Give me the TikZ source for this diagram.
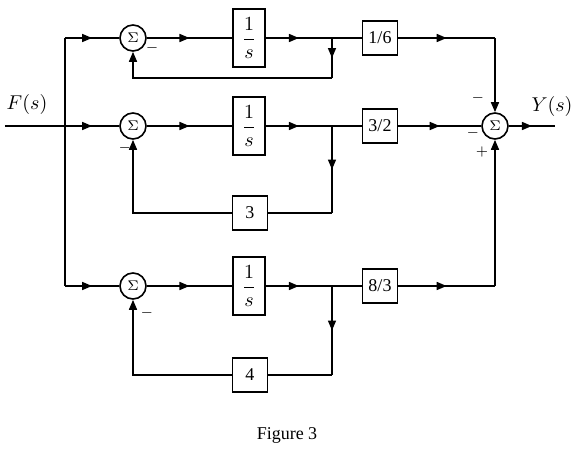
\documentclass[tikz,border=0pt]{standalone}
\usepackage{tikz}
\usepackage{xcolor}
\usepackage{amsmath}
\usepackage{fontspec}
\setmainfont{Liberation Serif}
\usetikzlibrary{arrows.meta,decorations.markings}

\tikzset{
  sumnode/.style={draw, circle, minimum size=13pt, inner sep=0pt, font=\scriptsize},
  block/.style={draw, minimum width=17.5pt, minimum height=17pt, inner sep=1pt, font=\small},
  intblock/.style={draw, minimum width=16pt, minimum height=29pt, inner sep=0pt},
  signlabel/.style={font=\scriptsize, inner sep=0pt},
  midarrow/.style={postaction={decorate},
    decoration={markings, mark=at position 0.5 with {\arrow{Triangle[length=5pt,width=4pt]}}}},
  tiparrow/.style={-{Triangle[length=5pt,width=4pt]}}
}

\newcommand{\looprow}[3]{%
  \begin{scope}[shift={(0, #1)}]%
    \def\rowname{#2}
    \def\gaintext{#3}

    \node[sumnode] (sum\rowname) at (133, 0) {$\Sigma$};
    \node[intblock] (int\rowname) at (249, 0) {$\dfrac{1}{s}$};
    \node[block] (gain\rowname) at (380, 0) {\gaintext};
    \coordinate (in\rowname) at (65, 0);
    \coordinate (br\rowname) at (332, 0);

    \draw[midarrow] (in\rowname) -- (sum\rowname.west);
    \draw[midarrow] (sum\rowname.east) -- (int\rowname.west);
    \draw[midarrow] (int\rowname.east) -- (br\rowname);
    \draw (br\rowname) -- (gain\rowname.west);
  \end{scope}
}

\begin{document}
\begin{tikzpicture}[x=0.5pt, y=-0.5pt, line width=0.8pt]
\useasboundingbox (0, 0) rectangle (575, 450);

% three integrator rows
\looprow{38}{A}{1/6}
\looprow{126}{B}{3/2}
\looprow{286}{C}{8/3}

% input and left bus
\coordinate (fin) at (5, 126);
\node (flabel) at (27, 104) {$F(s)$};
\draw (fin) -- (inB);
\draw (inA) -- (inC);

% output summing junction
\node[sumnode] (sumY) at (495, 126) {$\Sigma$};
\coordinate (yout) at (555, 126);
\coordinate (cornA) at (495, 38);
\coordinate (cornC) at (495, 286);
\node (ylabel) at (552, 106) {$Y(s)$};

\draw[midarrow] (gainA.east) -- (cornA);
\draw[tiparrow] (cornA) -- (sumY.north);
\draw[midarrow] (gainB.east) -- (sumY.west);
\draw[midarrow] (gainC.east) -- (cornC);
\draw[tiparrow] (cornC) -- (sumY.south);
\draw[midarrow] (sumY.east) -- (yout);

% feedback paths
\coordinate (fbA) at (332, 78);
\draw[midarrow] (brA) -- (fbA);
\draw[tiparrow] (fbA) -| (sumA.south);

\node[block] (fbB) at (250, 213) {3};
\draw[midarrow] (brB) -- (brB |- fbB);
\draw (brB |- fbB) -- (fbB.east);
\draw[tiparrow] (fbB.west) -| (sumB.south);

\node[block] (fbC) at (250, 375) {4};
\draw[midarrow] (brC) -- (brC |- fbC);
\draw (brC |- fbC) -- (fbC.east);
\draw[tiparrow] (fbC.west) -| (sumC.south);

% signs
\node[signlabel] (sgnA) at (152, 48) {$-$};
\node[signlabel] (sgnB) at (125, 148) {$-$};
\node[signlabel] (sgnC) at (147, 313) {$-$};
\node[signlabel] (sgnYa) at (478, 98) {$-$};
\node[signlabel] (sgnYb) at (473, 133) {$-$};
\node[signlabel] (sgnYc) at (482, 152) {$+$};

\node[font=\small] (caption) at (287, 435) {Figure 3};

\end{tikzpicture}
\end{document}
